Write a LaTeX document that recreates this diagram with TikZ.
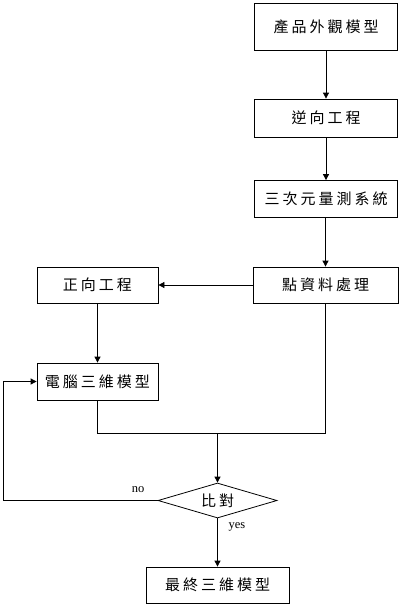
\documentclass[tikz,border=0pt]{standalone}
\usepackage{fontspec}
\setmainfont{Liberation Serif}
\newfontfamily\cjk[LetterSpace=20]{Noto Sans CJK TC}
\usetikzlibrary{shapes.geometric,arrows.meta}
\begin{document}
\begin{tikzpicture}[x=1pt,y=-1pt,
  box/.style={draw,line width=0.8pt,rectangle,inner sep=0pt,font=\cjk\fontsize{15}{17}\selectfont},
  dec/.style={draw,line width=0.8pt,diamond,inner sep=0pt,aspect=3.4,minimum width=119pt,minimum height=35pt,font=\cjk\fontsize{15}{17}\selectfont},
  conn/.style={line width=0.8pt},
  arr/.style={conn,-{Triangle[length=6pt,width=6pt]}},
  lbl/.style={font=\fontsize{12.5}{14}\selectfont,inner sep=0pt}]
\useasboundingbox (0,0) rectangle (401,606);
\node[box,minimum width=143pt,minimum height=47pt] (b1) at (326,26.5) {產品外觀模型};
\node[box,minimum width=143pt,minimum height=38pt] (b2) at (326,118) {逆向工程};
\node[box,minimum width=143pt,minimum height=37pt] (b3) at (326,199) {三次元量測系統};
\node[box,minimum width=145pt,minimum height=36pt] (b4) at (325.5,285) {點資料處理};
\node[box,minimum width=121pt,minimum height=36pt] (b5) at (97.5,285) {正向工程};
\node[box,minimum width=121pt,minimum height=37pt] (b6) at (97.5,381.5) {電腦三維模型};
\node[dec] (d) at (217.5,500.5) {比對};
\node[box,minimum width=143pt,minimum height=36pt] (b7) at (217.5,585) {最終三維模型};
\coordinate (j) at (217.5,433);
\coordinate (fb) at (3,500.5);
\draw[arr] (b1) -- (b2);
\draw[arr] (b2) -- (b3);
\draw[arr] (b3.south -| b4.north) -- (b4.north);
\draw[arr] (b4) -- (b5);
\draw[arr] (b5) -- (b6);
\draw[conn] (b6.south) |- (b4.south |- j) -- (b4.south);
\draw[arr] (j) -- (d.north);
\draw[arr] (d.south) -- (b7.north);
\draw[arr] (d.west) -- (fb) |- (b6.west);
\node[lbl] (no) at (138,490) {no};
\node[lbl] (yes) at (237,527) {yes};
\end{tikzpicture}
\end{document}
